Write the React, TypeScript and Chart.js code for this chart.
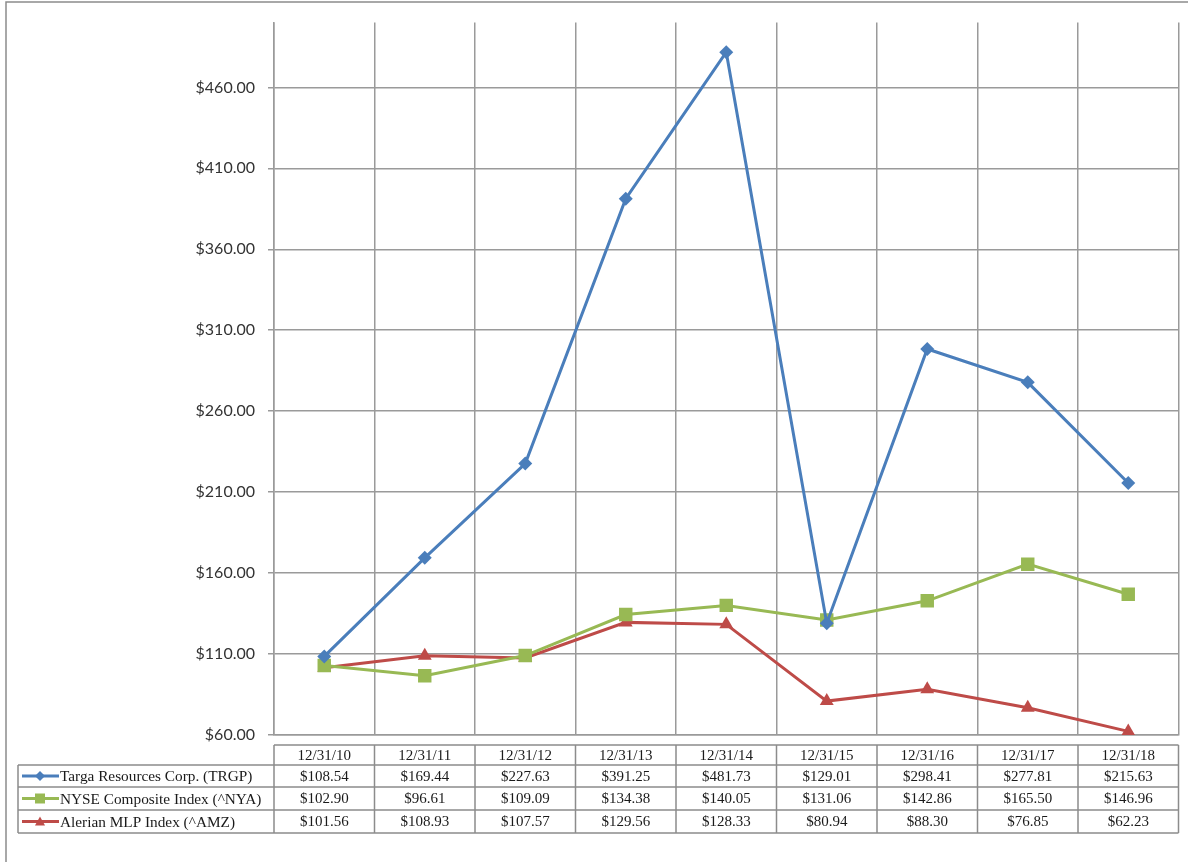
import React, { useEffect, useRef } from "react";
import { Chart, registerables } from "chart.js";

Chart.register(...registerables);

const categories = ["12/31/10", "12/31/11", "12/31/12", "12/31/13", "12/31/14", "12/31/15", "12/31/16", "12/31/17", "12/31/18"];
const trgpValues = [108.54, 169.44, 227.63, 391.25, 481.73, 129.01, 298.41, 277.81, 215.63];
const nyaValues = [102.9, 96.61, 109.09, 134.38, 140.05, 131.06, 142.86, 165.5, 146.96];
const amzValues = [101.56, 108.93, 107.57, 129.56, 128.33, 80.94, 88.3, 76.85, 62.23];
const seriesNames = ["Targa Resources Corp. (TRGP)", "NYSE Composite Index (^NYA)", "Alerian MLP Index (^AMZ)"];
const yTickValues = [60, 110, 160, 210, 260, 310, 360, 410, 460];
const yMin = 60;
const yMax = 500;

const BLUE = "#4a7ebb";
const GREEN = "#98b954";
const RED = "#be4b48";
const GRID = "#9a9a9a";
const TABLE_LINE = "#8c8c8c";

const seriesValues = [trgpValues, nyaValues, amzValues];
const seriesColors = [BLUE, GREEN, RED];
const seriesMarkers = ["rectRot", "rect", "triangle"];
const seriesRadius = [7, 9.5, 8];

function fmt(v: number) {
  return "$" + v.toFixed(2);
}

function drawMarker(ctx: CanvasRenderingContext2D, kind: string, x: number, y: number, r: number, color: string) {
  ctx.save();
  ctx.fillStyle = color;
  ctx.beginPath();
  if (kind === "rectRot") {
    ctx.moveTo(x, y - r);
    ctx.lineTo(x + r, y);
    ctx.lineTo(x, y + r);
    ctx.lineTo(x - r, y);
  } else if (kind === "rect") {
    ctx.rect(x - r, y - r, 2 * r, 2 * r);
  } else {
    ctx.moveTo(x, y - r);
    ctx.lineTo(x + r, y + r * 0.8);
    ctx.lineTo(x - r, y + r * 0.8);
  }
  ctx.closePath();
  ctx.fill();
  ctx.restore();
}

const tablePlugin = {
  id: "dataTable",
  afterDraw(chart: any) {
    const ctx: CanvasRenderingContext2D = chart.ctx;
    const area = chart.chartArea;
    const n = categories.length;
    const colW = (area.right - area.left) / n;
    const rowTops = [area.bottom + 10, area.bottom + 30, area.bottom + 52, area.bottom + 75, area.bottom + 98];
    const legendLeft = 18;
    ctx.save();
    // outer frame
    ctx.strokeStyle = TABLE_LINE;
    ctx.lineWidth = 1.5;
    ctx.beginPath();
    ctx.moveTo(6, chart.height);
    ctx.lineTo(6, 2);
    ctx.lineTo(chart.width, 2);
    ctx.stroke();

    // table lines
    ctx.strokeStyle = TABLE_LINE;
    ctx.lineWidth = 1.5;
    ctx.beginPath();
    ctx.moveTo(area.left, rowTops[0]);
    ctx.lineTo(area.right, rowTops[0]);
    for (let r = 1; r < rowTops.length; r++) {
      ctx.moveTo(legendLeft, rowTops[r]);
      ctx.lineTo(area.right, rowTops[r]);
    }
    for (let c = 0; c <= n; c++) {
      const x = area.left + c * colW;
      ctx.moveTo(x, rowTops[0]);
      ctx.lineTo(x, rowTops[4]);
    }
    ctx.moveTo(legendLeft, rowTops[1]);
    ctx.lineTo(legendLeft, rowTops[4]);
    ctx.stroke();

    ctx.fillStyle = "#1a1a1a";
    ctx.font = "15px 'Liberation Serif'";
    ctx.textBaseline = "middle";
    ctx.textAlign = "center";
    for (let c = 0; c < n; c++) {
      const cx = area.left + (c + 0.5) * colW;
      ctx.fillText(categories[c], cx, (rowTops[0] + rowTops[1]) / 2 + 1);
      for (let s = 0; s < 3; s++) {
        ctx.fillText(fmt(seriesValues[s][c]), cx, (rowTops[s + 1] + rowTops[s + 2]) / 2 + 1);
      }
    }
    ctx.textAlign = "left";
    ctx.font = "15.3px 'Liberation Serif'";
    for (let s = 0; s < 3; s++) {
      const cy = (rowTops[s + 1] + rowTops[s + 2]) / 2;
      ctx.strokeStyle = seriesColors[s];
      ctx.lineWidth = 3;
      ctx.beginPath();
      ctx.moveTo(22, cy);
      ctx.lineTo(59, cy);
      ctx.stroke();
      drawMarker(ctx, seriesMarkers[s], 40, cy, 5, seriesColors[s]);
      ctx.fillStyle = "#1a1a1a";
      ctx.fillText(seriesNames[s], 60, cy + 1);
    }
    ctx.restore();
  },
};

export default function App() {
  const ref = useRef<HTMLCanvasElement | null>(null);
  useEffect(() => {
    if (!ref.current) return;
    const chart = new Chart(ref.current, {
      type: "line",
      data: {
        labels: categories,
        datasets: seriesNames.map((name, i) => ({
          label: name,
          data: seriesValues[i],
          borderColor: seriesColors[i],
          backgroundColor: seriesColors[i],
          borderWidth: 3,
          pointStyle: seriesMarkers[i] as any,
          pointRadius: seriesRadius[i],
          pointBorderWidth: 0,
          tension: 0,
        })),
      },
      options: {
        responsive: false,
        animation: false,
        layout: { padding: { left: 0, right: 8, top: 22, bottom: 127 } },
        plugins: { legend: { display: false }, tooltip: { enabled: false }, title: { display: false } },
        scales: {
          x: {
            type: "category",
            offset: true,
            grid: { offset: true, color: GRID, lineWidth: 1.5, drawTicks: false },
            border: { display: true, color: GRID, width: 1.5 },
            ticks: { display: false },
            afterFit: (scale: any) => {
              scale.height = 0;
            },
          },
          y: {
            min: yMin,
            max: yMax,
            grid: { color: GRID, lineWidth: 1.5, drawTicks: true, tickLength: 6 },
            border: { display: true, color: GRID, width: 1.5 },
            afterBuildTicks: (scale: any) => {
              scale.ticks = yTickValues.map((v) => ({ value: v }));
            },
            afterFit: (scale: any) => {
              scale.width = 274;
            },
            ticks: {
              padding: 13,
              color: "#333",
              font: { family: "Lato", size: 16 },
              callback: (v: any) => fmt(Number(v)),
            },
          },
        },
      },
      plugins: [tablePlugin],
    });
    return () => chart.destroy();
  }, []);
  return (
    <div style={{ position: "absolute", left: 0, top: 0, width: 1188, height: 862, background: "#fff" }}>
      <canvas ref={ref} width={1188} height={862} style={{ width: 1188, height: 862, display: "block" }} />
    </div>
  );
}
